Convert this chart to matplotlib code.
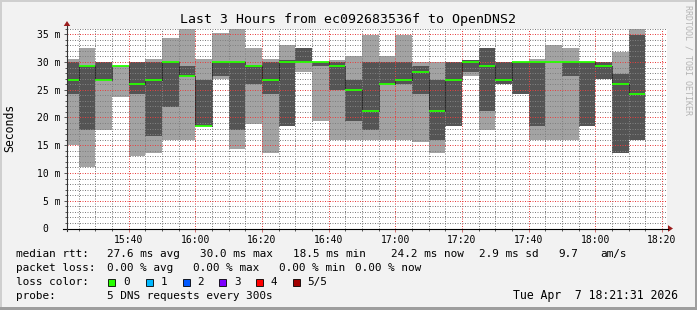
import numpy as np
import matplotlib
matplotlib.use("Agg")
import matplotlib.pyplot as plt
from matplotlib.lines import Line2D
from matplotlib.patches import Rectangle, Polygon
from matplotlib.ticker import MultipleLocator, FixedLocator

plt.rcParams['font.family'] = ['DejaVu Sans Mono']

# 5-minute slots (start time) and the five sorted ping rtts per slot, in ms
slots = ["15:20", "15:25", "15:30", "15:35", "15:40", "15:45", "15:50", "15:55",
         "16:00", "16:05", "16:10", "16:15", "16:20", "16:25", "16:30", "16:35",
         "16:40", "16:45", "16:50", "16:55", "17:00", "17:05", "17:10", "17:15",
         "17:20", "17:25", "17:30", "17:35", "17:40", "17:45", "17:50", "17:55",
         "18:00", "18:05", "18:10"]
p1 = [15.0, 11.0, 17.7, 23.7, 13.1, 13.6, 15.9, 15.9, 18.5, 26.9, 14.3, 18.8,
      13.6, 18.5, 28.2, 19.4, 15.9, 15.9, 15.9, 15.9, 15.9, 15.5, 13.6, 18.5,
      27.5, 17.7, 26.0, 24.2, 15.9, 15.9, 15.9, 18.5, 26.9, 13.6, 15.9]
p2 = [24.2, 17.7, 26.8, 29.3, 24.2, 16.7, 21.9, 27.5, 18.5, 27.4, 17.7, 26.0,
      24.2, 18.5, 30.0, 29.3, 24.9, 19.3, 17.7, 26.0, 26.0, 24.2, 15.9, 18.5,
      28.2, 21.1, 26.0, 24.2, 18.5, 30.0, 27.5, 18.5, 26.9, 13.6, 15.9]
median = [26.8, 29.3, 26.8, 29.3, 26.0, 26.8, 30.0, 27.5, 18.5, 30.0, 30.0, 29.3,
          26.8, 30.0, 30.0, 30.0, 29.3, 25.0, 21.2, 26.0, 26.8, 28.2, 21.2, 26.8,
          30.0, 29.3, 26.8, 30.0, 30.0, 30.0, 30.0, 30.0, 29.3, 26.0, 24.2]
p4 = [30.0, 29.3, 30.0, 29.3, 30.0, 30.0, 30.0, 29.2, 26.7, 30.0, 30.0, 29.4,
      30.0, 30.3, 32.5, 30.0, 30.0, 26.7, 30.0, 30.0, 30.0, 29.2, 26.7, 30.0,
      30.4, 32.5, 30.0, 30.0, 30.0, 30.0, 30.0, 30.0, 30.0, 27.8, 34.8]
p5 = [30.5, 32.5, 30.0, 29.3, 30.0, 30.5, 34.3, 35.9, 30.5, 35.3, 35.9, 32.5,
      30.5, 33.0, 32.5, 30.0, 30.3, 31.0, 34.8, 31.0, 34.8, 30.0, 30.0, 30.0,
      30.4, 32.5, 30.0, 30.0, 30.5, 33.0, 32.5, 30.0, 30.0, 31.8, 35.9]

xtick_labels = ["15:40", "16:00", "16:20", "16:40", "17:00", "17:20", "17:40", "18:00", "18:20"]
ytick_vals = [0, 5, 10, 15, 20, 25, 30, 35]
ytick_labels = ["0  ", "5 m", "10 m", "15 m", "20 m", "25 m", "30 m", "35 m"]

rtt_stats = ["27.6 ms avg", "30.0 ms max", "18.5 ms min", "24.2 ms now", "2.9 ms sd", "9.7", "am/s"]
loss_stats = ["0.00 % avg", "0.00 % max", "0.00 % min", "0.00 % now"]
loss_labels = ["0", "1", "2", "3", "4", "5/5"]
loss_colors = ["#26ff00", "#00b8ff", "#0059ff", "#7e00ff", "#ff0000", "#a10000"]

W, H = 697, 310


def fx(px):
    return px / W


def fy(py):
    return 1 - py / H


def hm(s):
    h, m = s.split(":")
    return int(h) * 60 + int(m)


start = np.array([hm(s) for s in slots], dtype=float)
t0 = 15 * 60 + 21 + 31 / 60.

fig = plt.figure(figsize=(W / 100, H / 100), dpi=100, facecolor="#f2f2f2")

# frame shading
fig.add_artist(Rectangle((0, 0), fx(2), 1, transform=fig.transFigure, color="#cfcfcf", lw=0))
fig.add_artist(Rectangle((0, fy(2)), 1, 2 / H, transform=fig.transFigure, color="#cfcfcf", lw=0))
fig.add_artist(Rectangle((fx(W - 2), 0), fx(2), 1, transform=fig.transFigure, color="#9e9e9e", lw=0))
fig.add_artist(Rectangle((0, 0), 1, 3 / H, transform=fig.transFigure, color="#9e9e9e", lw=0))

ax = fig.add_axes([fx(67), fy(228.5), 600 / W, 200 / H])
ax.set_facecolor("white")
ax.set_xlim(t0, t0 + 180)
ax.set_ylim(0, 35 * 200 / 194.3)

p1a, p2a, p4a, p5a, meda = map(np.array, (p1, p2, p4, p5, median))
ax.bar(start, p5a - p1a, bottom=p1a, width=5, align="edge", color="#a3a3a3", lw=0, zorder=1)
ax.bar(start, p4a - p2a, bottom=p2a, width=5, align="edge", color="#545454", lw=0, zorder=1.1)

# median: dark step connectors and green level segments
ax.vlines(start[1:], meda[:-1], meda[1:], colors="#000000", lw=0.72,
          linestyles=(0, (1, 1)), zorder=3)
ax.hlines(meda, start, start + 5, colors="#26ff00", lw=1.3, zorder=3.1)

# grid
ax.xaxis.set_major_locator(FixedLocator([hm(s) for s in xtick_labels]))
ax.xaxis.set_minor_locator(MultipleLocator(5))
ax.yaxis.set_major_locator(FixedLocator(ytick_vals))
ax.yaxis.set_minor_locator(MultipleLocator(1))
ax.set_xticklabels(xtick_labels)
ax.set_yticklabels(ytick_labels)
ax.set_axisbelow(False)
ax.grid(which="minor", color=(0.5, 0.5, 0.5, 0.26), lw=0.72, linestyle=(0, (1, 1.5)))
ax.grid(which="major", color=(0.9, 0.25, 0.25, 0.36), lw=0.72, linestyle=(0, (1, 1.5)))
ax.tick_params(axis="both", which="both", labelsize=7, color="#555555", width=0.7)
ax.tick_params(axis="y", which="major", length=2.5, pad=2.2)
ax.tick_params(axis="y", which="minor", length=1.4)
ax.tick_params(axis="x", which="major", length=2, pad=3, color="#d07070")
ax.tick_params(axis="x", which="minor", length=1.4)
for sp in ax.spines.values():
    sp.set_visible(False)

# axis lines with arrows
fig.add_artist(Line2D([fx(63), fx(668)], [fy(228.5), fy(228.5)], transform=fig.transFigure, color="black", lw=0.8))
fig.add_artist(Line2D([fx(67), fx(67)], [fy(231), fy(26)], transform=fig.transFigure, color="#333333", lw=0.8))
arrow = "#9b1c1c"
fig.add_artist(Polygon([[fx(668), fy(225.2)], [fx(668), fy(231.8)], [fx(673), fy(228.5)]],
                       transform=fig.transFigure, color=arrow, lw=0))
fig.add_artist(Polygon([[fx(63.7), fy(26)], [fx(70.3), fy(26)], [fx(67), fy(21)]],
                       transform=fig.transFigure, color=arrow, lw=0))

# texts
fig.text(fx(347.5), fy(19), "Last 3 Hours from ec092683536f to OpenDNS2",
         ha="center", va="center", fontsize=9.5)
fig.text(fx(10), fy(128), "Seconds", rotation=90, ha="center", va="center", fontsize=8.3)
fig.text(fx(688), fy(60), "RRDTOOL / TOBI OETIKER", rotation=270, ha="center", va="center",
         fontsize=6, color="#b4b4b4")

fs = 7.9
row1 = [16, 107.3, 200, 293.3, 391, 479.3, 558.3, 600]
for x, s in zip(row1, ["median rtt:"] + rtt_stats):
    fig.text(fx(x), fy(254), s, ha="left", va="center", fontsize=fs)
row2 = [16, 107.3, 193.3, 279.3, 354.5]
for x, s in zip(row2, ["packet loss:"] + loss_stats):
    fig.text(fx(x), fy(267.7), s, ha="left", va="center", fontsize=fs)
fig.text(fx(16), fy(282.3), "loss color:", ha="left", va="center", fontsize=fs)
box_x = [108.3, 145.7, 182.7, 219.3, 256, 292.7]
for x, lab, c in zip(box_x, loss_labels, loss_colors):
    fig.add_artist(Rectangle((fx(x), fy(286)), 7 / W, 7.5 / H, transform=fig.transFigure,
                             facecolor=c, edgecolor="black", lw=0.6))
    fig.text(fx(x + 14.5), fy(282.3), lab, ha="left", va="center", fontsize=fs)
fig.text(fx(16), fy(295.7), "probe:", ha="left", va="center", fontsize=fs)
fig.text(fx(107.3), fy(295.7), "5 DNS requests every 300s", ha="left", va="center", fontsize=fs)
fig.text(fx(512.7), fy(295.7), "Tue Apr  7 18:21:31 2026", ha="left", va="center", fontsize=8.3)

fig.savefig("out.png", dpi=100, facecolor=fig.get_facecolor())
